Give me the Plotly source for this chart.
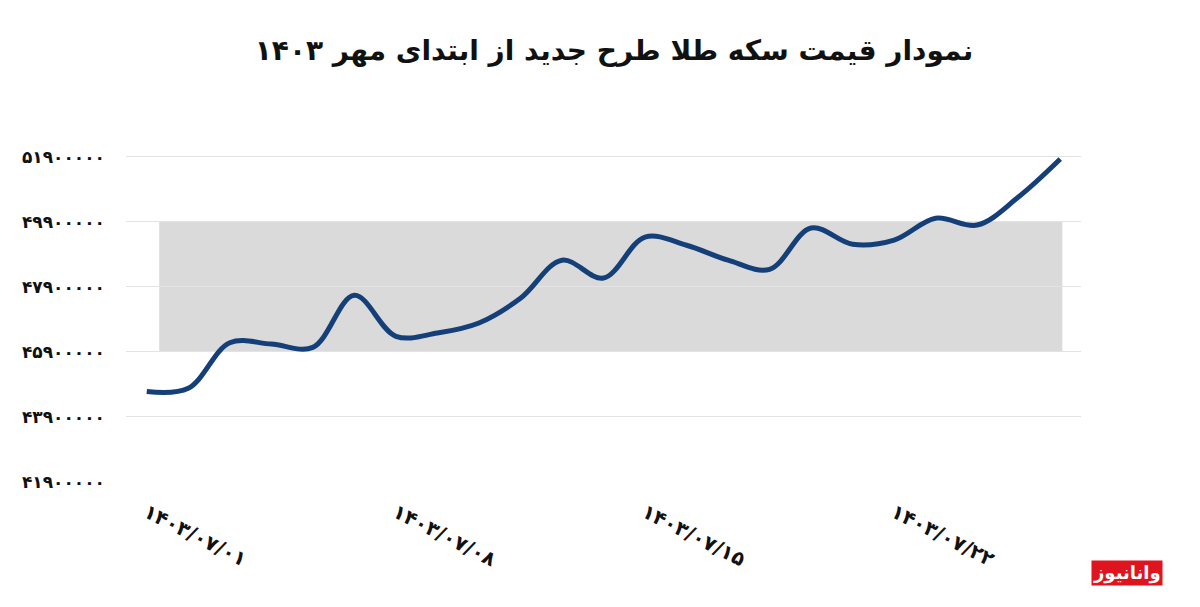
import plotly.graph_objects as go

# trading days from 1403/07/01 (Fridays skipped)
dates = ["۱۴۰۳/۰۷/۰۱", "۱۴۰۳/۰۷/۰۲", "۱۴۰۳/۰۷/۰۳", "۱۴۰۳/۰۷/۰۴", "۱۴۰۳/۰۷/۰۵",
         "۱۴۰۳/۰۷/۰۷", "۱۴۰۳/۰۷/۰۸", "۱۴۰۳/۰۷/۰۹", "۱۴۰۳/۰۷/۱۰", "۱۴۰۳/۰۷/۱۱",
         "۱۴۰۳/۰۷/۱۲", "۱۴۰۳/۰۷/۱۴", "۱۴۰۳/۰۷/۱۵", "۱۴۰۳/۰۷/۱۶", "۱۴۰۳/۰۷/۱۷",
         "۱۴۰۳/۰۷/۱۸", "۱۴۰۳/۰۷/۱۹", "۱۴۰۳/۰۷/۲۱", "۱۴۰۳/۰۷/۲۲", "۱۴۰۳/۰۷/۲۳",
         "۱۴۰۳/۰۷/۲۴", "۱۴۰۳/۰۷/۲۵", "۱۴۰۳/۰۷/۲۶"]

# coin price (rial)
price = [44680000, 44780000, 46180000, 46140000, 46040000,
         47640000, 46380000, 46480000, 46790000, 47550000,
         48720000, 48170000, 49430000, 49180000, 48720000,
         48440000, 49710000, 49210000, 49340000, 50010000,
         49800000, 50670000, 51830000]

tick_idx = [0, 6, 12, 18]
y_ticks = [41900000, 43900000, 45900000, 47900000, 49900000, 51900000]

fa = str.maketrans("0123456789", "۰۱۲۳۴۵۶۷۸۹")
y_text = [str(v).translate(fa) for v in y_ticks]

x = list(range(len(dates)))

fig = go.Figure()

fig.add_trace(go.Scatter(
    x=x, y=price, mode="lines",
    line=dict(color="#143f78", width=5, shape="spline", smoothing=1.0),
    hoverinfo="skip"
))

# gray band of the watermark behind the line
fig.add_shape(type="rect", xref="x", yref="y", x0=0.3, x1=22.05,
              y0=y_ticks[2], y1=y_ticks[4], fillcolor="#dadada",
              line=dict(width=0), layer="below")

# site logo, bottom right
fig.add_annotation(text="<b>وانانیوز</b>", xref="paper", yref="paper",
                   x=1.086, y=-0.31, showarrow=False,
                   font=dict(family="DejaVu Sans", size=18, color="white"),
                   bgcolor="#e0141e", borderpad=1)

fig.update_layout(
    width=1200, height=607,
    margin=dict(l=118, r=127, t=139, b=133),
    paper_bgcolor="white", plot_bgcolor="white",
    showlegend=False,
    font=dict(family="DejaVu Sans", color="#111111"),
    title=dict(text="<b>نمودار قیمت سکه طلا طرح جدید از ابتدای مهر ۱۴۰۳</b>",
               x=0.505, xanchor="center", y=0.93, yanchor="middle",
               font=dict(size=28, color="#111111")),
    xaxis=dict(
        range=[-0.5, len(dates) - 0.5],
        tickmode="array", tickvals=tick_idx,
        ticktext=[dates[i] for i in tick_idx],
        tickangle=27, ticklabelstandoff=14,
        tickfont=dict(size=20, color="#111111", weight="bold"),
        showgrid=False, zeroline=False, showline=False,
    ),
    yaxis=dict(
        range=[41900000, 52200000],
        tickmode="array", tickvals=y_ticks, ticktext=y_text,
        tickfont=dict(size=17, color="#111111", weight="bold"),
        ticklabelstandoff=20,
        showgrid=True, gridcolor="#e3e3e3", gridwidth=1,
        zeroline=False, showline=False,
    ),
)

fig.write_html("out.html")
